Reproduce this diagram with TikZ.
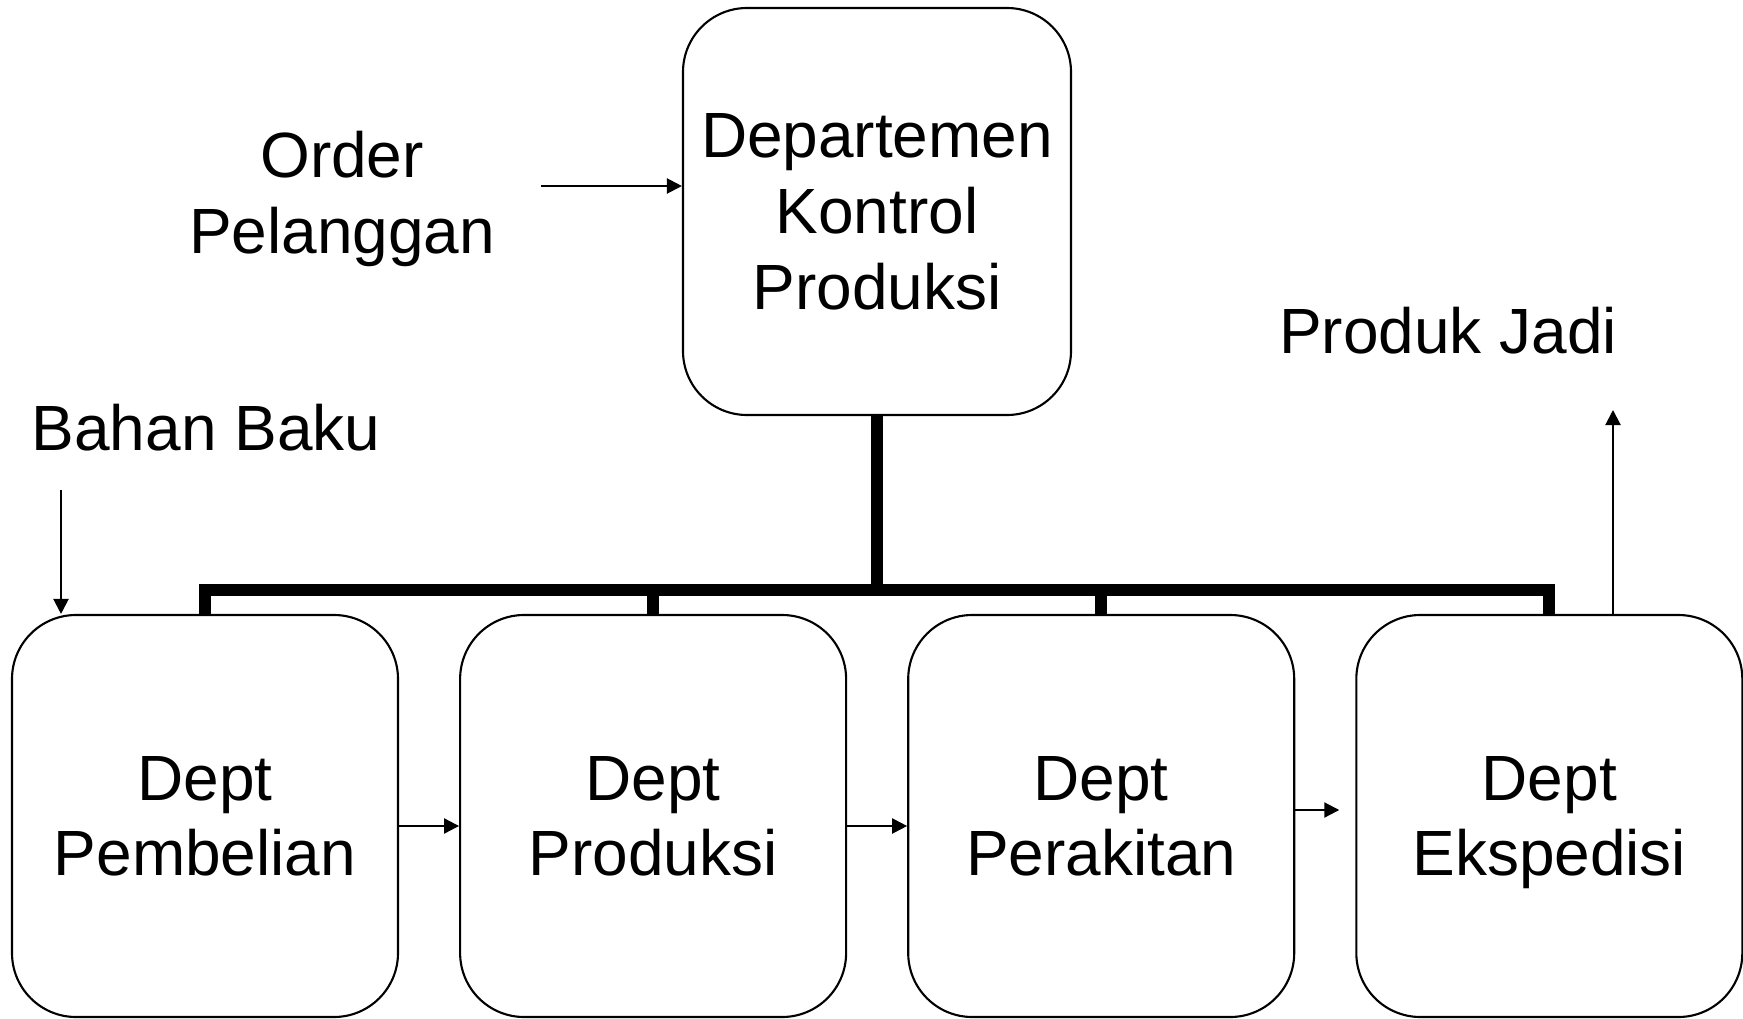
\documentclass[tikz,border=0pt]{standalone}
\usepackage{fontspec}
\setmainfont{Liberation Sans}
\usetikzlibrary{arrows.meta, positioning}

\begin{document}
\begin{tikzpicture}[
  >={Triangle[length=0.15cm, width=0.15cm]},
  line width=0.6pt,
  font=\fontsize{18.2}{21.6}\selectfont,
  node distance=0.60cm,
  dept/.style={draw, rectangle, rounded corners=0.64cm, minimum width=3.86cm, minimum height=4.02cm, align=center, inner sep=0pt, text depth=-0.11cm},
  txt/.style={align=center, inner sep=0pt},
  bus/.style={line width=0.12cm}
]
  \useasboundingbox (0,0) rectangle (17.43,-10.19);

  \node[dept, minimum width=3.88cm, minimum height=4.07cm, text depth=-0.07cm] (kontrol) at (8.77,-2.115) {Departemen\\Kontrol\\Produksi};
  \node[dept] (pembelian) at (2.05,-8.16) {Dept\\Pembelian};
  \node[dept, right=of pembelian] (produksi) {Dept\\Produksi};
  \node[dept, right=of produksi] (perakitan) {Dept\\Perakitan};
  \node[dept, right=of perakitan] (ekspedisi) {Dept\\Ekspedisi};

  \node[txt] (order) at (3.42,-1.99) {Order\\Pelanggan};
  \node[txt] (bahan) at (2.06,-4.28) {Bahan Baku};
  \node[txt] (jadi) at (14.48,-3.31) {Produk Jadi};

  % garis struktur organisasi
  \coordinate (bus) at (8.77,-5.90);
  \draw[bus] (kontrol.south) -- (bus);
  \draw[bus, line join=miter] (pembelian.north) |- (bus) -| (ekspedisi.north);
  \draw[bus] (produksi.north) -- (produksi.north |- bus);
  \draw[bus] (perakitan.north) -- (perakitan.north |- bus);

  % aliran masuk dan keluar
  \coordinate (orderIn) at (5.41,-1.86);
  \draw[->] (orderIn) -- (orderIn -| kontrol.west);
  \coordinate (bahanIn) at (0.61,-4.90);
  \draw[->] (bahanIn) -- (bahanIn |- pembelian.north);
  \coordinate (jadiOut) at (16.13,-4.10);
  \draw[->] (jadiOut |- ekspedisi.north) -- (jadiOut);

  % aliran antar departemen
  \draw[->] ([yshift=-0.10cm]pembelian.east) -- ([yshift=-0.10cm]produksi.west);
  \draw[->] ([yshift=-0.10cm]produksi.east) -- ([yshift=-0.10cm]perakitan.west);
  \draw[->] ([yshift=0.06cm]perakitan.east) -- ([xshift=-0.16cm, yshift=0.06cm]ekspedisi.west);

\end{tikzpicture}
\end{document}
